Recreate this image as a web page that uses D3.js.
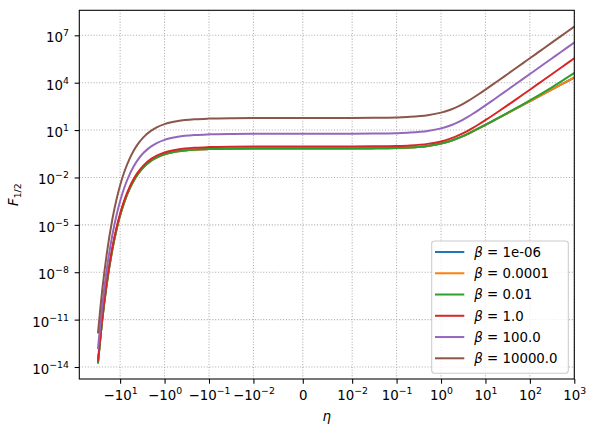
<!DOCTYPE html>
<html><head><meta charset="utf-8">
<script src="https://cdn.jsdelivr.net/npm/d3@7"></script>
<style>body{margin:0;background:#fff}svg{display:block;font-family:"DejaVu Sans",sans-serif}</style>
</head><body><svg id="c" width="596" height="435"></svg>
<script>
// ---- data ----
const eta = [-31.6, -25, -20, -15, -12, -10, -8, -6, -5, -4, -3, -2, -1.5, -1, -0.5, -0.2, -0.1, -0.03, -0.01, 0,
  0.01, 0.03, 0.1, 0.2, 0.5, 1, 1.5, 2, 3, 4, 5, 7, 10, 15, 20, 30, 50, 70, 100, 150, 200, 300, 500, 700, 1000];
const betaLabels = ["1e-06", "0.0001", "0.01", "1.0", "100.0", "10000.0"];
const F_beta_1e_6 = [1.674e-14, 1.231e-11, 1.827e-9, 2.711e-7, 5.445e-6, 4.023e-5, 2.973e-4, 2.195e-3, 5.957e-3, 0.01613, 0.04337, 0.1146, 0.1838, 0.2905, 0.4498, 0.5775, 0.6262, 0.6622, 0.6728, 0.6781,
  0.6835, 0.6943, 0.7334, 0.7922, 0.9904, 1.396, 1.900, 2.503, 3.978, 5.771, 7.838, 12.66, 21.34, 38.94, 59.81, 109.7, 235.8, 390.5, 666.8, 1225, 1886, 3464, 7454, 12347, 21082];
const F_beta_1e_4 = [1.674e-14, 1.231e-11, 1.827e-9, 2.711e-7, 5.445e-6, 4.023e-5, 2.973e-4, 2.195e-3, 5.957e-3, 0.01613, 0.04337, 0.1146, 0.1838, 0.2905, 0.4498, 0.5775, 0.6262, 0.6622, 0.6728, 0.6781,
  0.6835, 0.6943, 0.7334, 0.7922, 0.9904, 1.396, 1.900, 2.503, 3.978, 5.771, 7.838, 12.66, 21.34, 38.94, 59.83, 109.7, 236.0, 391.0, 667.8, 1228, 1891, 3480, 7510, 12476, 21398];
const F_beta_1e_2 = [1.680e-14, 1.236e-11, 1.834e-9, 2.721e-7, 5.465e-6, 4.038e-5, 2.984e-4, 2.203e-3, 5.979e-3, 0.01619, 0.04353, 0.1150, 0.1845, 0.2916, 0.4515, 0.5797, 0.6285, 0.6647, 0.6753, 0.6807,
  0.6861, 0.6970, 0.7362, 0.7952, 0.9942, 1.402, 1.908, 2.514, 4.000, 5.811, 7.901, 12.80, 21.68, 39.83, 61.60, 114.5, 252.8, 429.3, 759.3, 1472, 2377, 4748, 11674, 21471, 41511];
const F_beta_1 = [2.182e-14, 1.604e-11, 2.381e-9, 3.533e-7, 7.097e-6, 5.244e-5, 3.875e-4, 2.861e-3, 7.766e-3, 0.02103, 0.05664, 0.1501, 0.2413, 0.3829, 0.5969, 0.7704, 0.8368, 0.8862, 0.9007, 0.9080,
  0.9155, 0.9304, 0.9842, 1.066, 1.341, 1.916, 2.670, 3.600, 5.960, 9.050, 12.86, 22.64, 42.68, 90.27, 155.6, 339.3, 919.0, 1782, 3606, 8060, 14283, 32031, 88741, 173736, 354257];
const F_beta_1e2 = [1.349e-13, 9.919e-11, 1.472e-8, 2.185e-6, 4.388e-5, 3.242e-4, 2.396e-3, 0.01769, 0.04804, 0.1302, 0.3512, 0.9354, 1.512, 2.417, 3.804, 4.946, 5.389, 5.718, 5.816, 5.865,
  5.914, 6.014, 6.376, 6.926, 8.814, 12.87, 18.21, 25.00, 43.32, 68.36, 100.3, 185.4, 365.9, 808.2, 1427, 3196, 8854, 17341, 35374, 79572, 141448, 318232, 883935, 1732481, 3535632];
const F_beta_1e4 = [1.336e-12, 9.821e-10, 1.458e-7, 2.163e-5, 4.345e-4, 3.211e-3, 0.02372, 0.1752, 0.4757, 1.289, 3.478, 9.265, 14.98, 23.95, 37.71, 49.04, 53.43, 56.71, 57.67, 58.16,
  58.65, 59.65, 63.24, 68.70, 87.46, 127.7, 180.9, 248.5, 431.1, 680.7, 999.8, 1849, 3652, 8071, 14259, 31936, 88505, 173358, 353671, 795613, 1414332, 3182100, 8838958, 17324244, 35355473];
const seriesValues = [F_beta_1e_6, F_beta_1e_4, F_beta_1e_2, F_beta_1, F_beta_1e2, F_beta_1e4];

const xTickValues = [-10, -1, -0.1, -0.01, 0, 0.01, 0.1, 1, 10, 100, 1000];
const xTickLabels = [["\u221210","1"],["\u221210","0"],["\u221210","\u22121"],["\u221210","\u22122"],["0",""],
  ["10","\u22122"],["10","\u22121"],["10","0"],["10","1"],["10","2"],["10","3"]];
const yTickExps = [-14, -11, -8, -5, -2, 1, 4, 7];

// ---- styles / layout ----
const colors = ["#1f77b4", "#ff7f0e", "#2ca02c", "#d62728", "#9467bd", "#8c564b"];
const FS = 13.33, SFS = 9.33;
const plot = {left: 79.3, right: 574.3, top: 10.3, bottom: 379};

const svg = d3.select("#c");

// symlog transform (matplotlib: linthresh 0.01, linscale 1, base 10)
const linthresh = 0.01, linAdj = 1 / (1 - 1 / 10);
function symT(v) {
  const a = Math.abs(v);
  return a <= linthresh ? v / linthresh * linAdj : Math.sign(v) * (linAdj + Math.log10(a / linthresh));
}
const xLin = d3.scaleLinear().domain([symT(-83), symT(1000)]).range([plot.left, plot.right]);
const x = v => xLin(symT(v));
const y = d3.scaleLog().domain([Math.pow(10, -14.76), Math.pow(10, 8.584)]).range([plot.bottom, plot.top]);

// grid
const grid = svg.append("g").attr("stroke", "#b0b0b0").attr("stroke-width", 1.07).attr("stroke-dasharray", "1.07,1.76");
grid.selectAll(".gx").data(xTickValues).join("line")
  .attr("x1", d => x(d)).attr("x2", d => x(d)).attr("y1", plot.top).attr("y2", plot.bottom);
grid.selectAll(".gy").data(yTickExps).join("line")
  .attr("y1", d => y(Math.pow(10, d))).attr("y2", d => y(Math.pow(10, d))).attr("x1", plot.left).attr("x2", plot.right);

// lines
svg.append("defs").append("clipPath").attr("id", "clip").append("rect")
  .attr("x", plot.left).attr("y", plot.top).attr("width", plot.right - plot.left).attr("height", plot.bottom - plot.top);
const line = d3.line().x(d => x(d[0])).y(d => y(d[1])).curve(d3.curveMonotoneX);
const gl = svg.append("g").attr("clip-path", "url(#clip)");
seriesValues.forEach((vals, i) => {
  gl.append("path").datum(eta.map((e, j) => [e, vals[j]]))
    .attr("d", line).attr("fill", "none").attr("stroke", colors[i]).attr("stroke-width", 2)
    .attr("stroke-linejoin", "round");
});

function mathLabel(t, base, exp) {
  t.text("");
  t.append("tspan").text(base);
  if (exp) t.append("tspan").attr("font-size", SFS).attr("dy", -6).text(exp);
}

// x axis
const gx = svg.append("g").attr("transform", `translate(0,${plot.bottom})`)
  .call(d3.axisBottom(xLin).tickValues(xTickValues.map(symT)).tickSize(4.67).tickSizeOuter(0).tickFormat(() => ""));
gx.attr("font-size", null).attr("font-family", null);
gx.select(".domain").remove();
gx.selectAll(".tick line").attr("stroke", "#000").attr("stroke-width", 1.07);
gx.selectAll(".tick text").each(function (d, i) {
  const t = d3.select(this).attr("y", 20.5).attr("dy", null).attr("font-size", FS).attr("fill", "#000");
  mathLabel(t, xTickLabels[i][0], xTickLabels[i][1]);
});

// y axis
const gy = svg.append("g").attr("transform", `translate(${plot.left},0)`)
  .call(d3.axisLeft(y).tickValues(yTickExps.map(e => Math.pow(10, e))).tickSize(4.67).tickPadding(5.8).tickFormat(() => ""));
gy.attr("font-size", null).attr("font-family", null);
gy.select(".domain").remove();
gy.selectAll(".tick line").attr("stroke", "#000").attr("stroke-width", 1.07);
gy.selectAll(".tick text").each(function (d, i) {
  const t = d3.select(this).attr("dy", 6.5).attr("font-size", FS).attr("fill", "#000");
  mathLabel(t, "10", String(yTickExps[i]).replace("-", "\u2212"));
});

// frame
svg.append("rect").attr("x", plot.left).attr("y", plot.top)
  .attr("width", plot.right - plot.left).attr("height", plot.bottom - plot.top)
  .attr("fill", "none").attr("stroke", "#000").attr("stroke-width", 1.07);

// axis labels
svg.append("text").attr("x", (plot.left + plot.right) / 2).attr("y", 421).attr("text-anchor", "middle")
  .attr("font-size", FS).attr("font-style", "italic").text("\u03b7");
const yl = svg.append("text").attr("transform", `translate(18.3,${(plot.top + plot.bottom) / 2}) rotate(-90)`)
  .attr("text-anchor", "middle").attr("font-size", FS);
yl.append("tspan").attr("font-style", "italic").text("F");
yl.append("tspan").attr("font-size", SFS).attr("dy", 3).text("1/2");

// legend
const lg = svg.append("g");
lg.append("rect").attr("x", 431.7).attr("y", 241).attr("width", 136.6).attr("height", 132.3).attr("rx", 2.7)
  .attr("fill", "#fff").attr("fill-opacity", 0.8).attr("stroke", "#cccccc").attr("stroke-width", 1.07);
betaLabels.forEach((b, i) => {
  const yc = 252 + i * 21.26;
  lg.append("line").attr("x1", 435).attr("x2", 464.3).attr("y1", yc).attr("y2", yc)
    .attr("stroke", colors[i]).attr("stroke-width", 2);
  const t = lg.append("text").attr("x", 474.3).attr("y", yc + 4.8).attr("font-size", FS);
  t.append("tspan").attr("font-style", "italic").text("\u03b2");
  t.append("tspan").text(" = " + b);
});
</script></body></html>
